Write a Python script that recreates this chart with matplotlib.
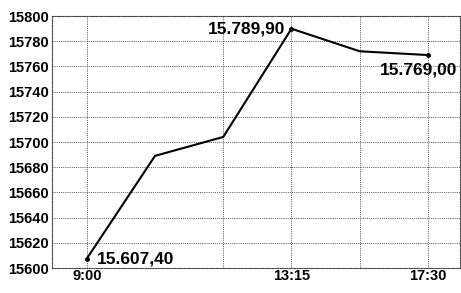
import matplotlib.pyplot as plt

# 数据
times = ["9:00", "", "", "13:15", "", "17:30"]
values = [15607.4, 15689, 15704, 15789.9, 15772, 15769]
yticks = list(range(15600, 15801, 20))
labels = {0: "15.607,40", 3: "15.789,90", 5: "15.769,00"}

plt.rcParams['font.family'] = ['Liberation Sans', 'DejaVu Sans']
plt.rcParams['font.weight'] = 'bold'

fig = plt.figure(figsize=(4.61, 2.93), dpi=100)
ax = fig.add_axes([52 / 461, 1 - 268 / 293, 408 / 461, 252 / 293])

x = list(range(len(values)))
ax.plot(x, values, color='black', linewidth=1.5, marker='o', markersize=2.5,
        markevery=[0, 3, 5], zorder=3)

ax.set_xlim(-0.51, 5.47)
ax.set_ylim(15600, 15800)
ax.set_yticks(yticks)
ax.set_yticklabels([str(v) for v in yticks], fontsize=10.5, fontweight='bold')
ax.set_xticks([0, 3, 5])
ax.set_xticklabels([times[0], times[3], times[5]], fontsize=10.5, fontweight='bold')
ax.tick_params(length=0, pad=2)
ax.tick_params(axis='x', pad=1)

# 网格
for yv in yticks:
    ax.axhline(yv, color='#555555', linestyle=(0, (1, 1.2)), linewidth=0.7, zorder=1)
for xv in [0, 2, 3, 4, 5]:
    ax.axvline(xv, color='#555555', linestyle=(0, (1, 1.2)), linewidth=0.7, zorder=1)
for s in ax.spines.values():
    s.set_linestyle((0, (1, 1.2)))
    s.set_linewidth(0.8)
    s.set_color('#444444')

# 数值标注
ax.annotate(labels[0], (0, values[0]), xytext=(10, 0), textcoords='offset pixels',
            ha='left', va='center', fontsize=12.5, fontweight='bold')
ax.annotate(labels[3], (3, values[3]), xytext=(-6, 0), textcoords='offset pixels',
            ha='right', va='center', fontsize=12.5, fontweight='bold')
ax.annotate(labels[5], (5, values[5]), xytext=(-9, -15), textcoords='offset pixels',
            ha='center', va='center', fontsize=12.5, fontweight='bold')

fig.savefig('out.png', dpi=100)
